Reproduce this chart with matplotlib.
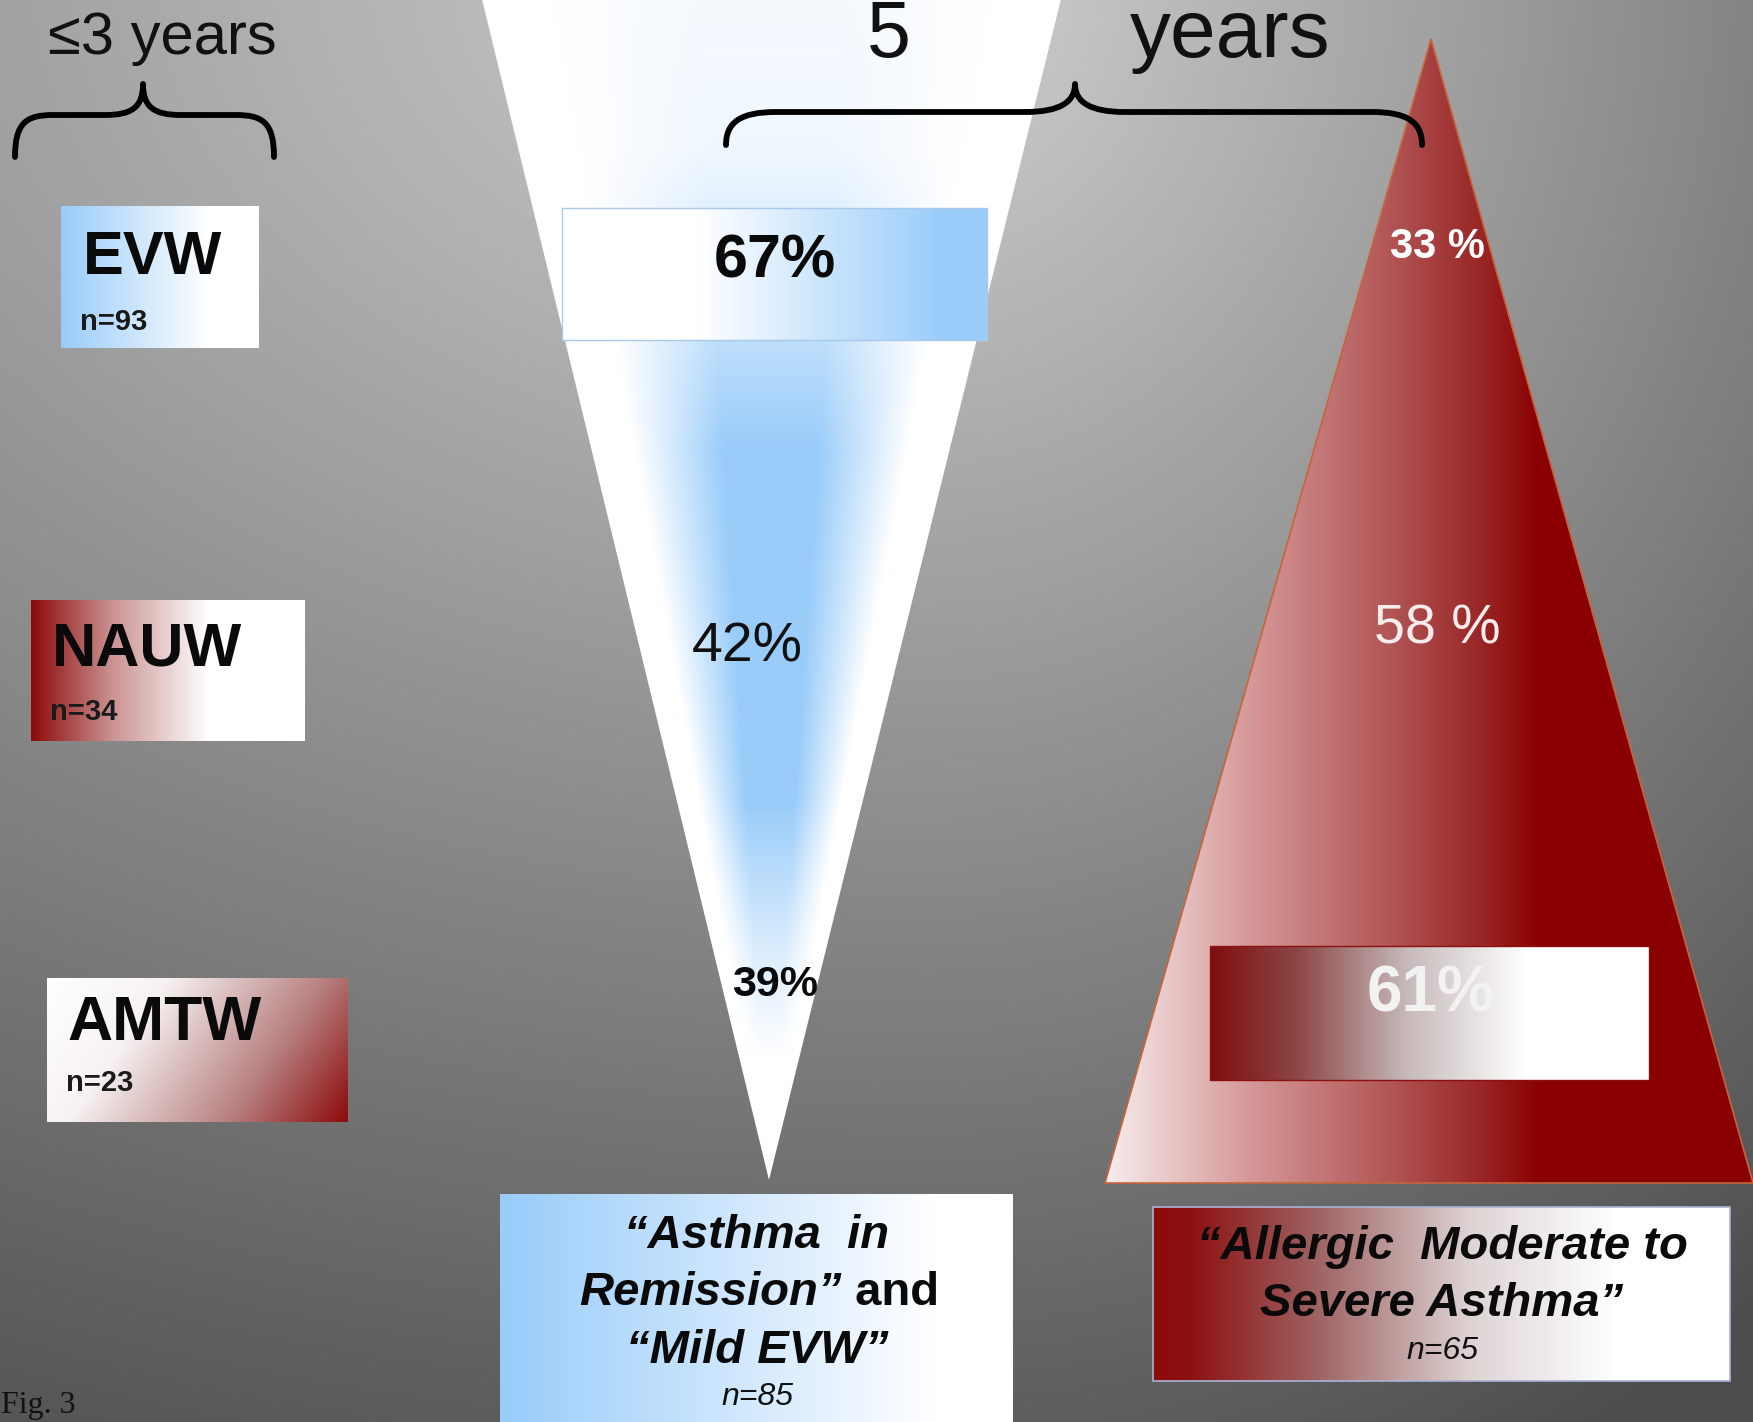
import numpy as np
import matplotlib
matplotlib.use("Agg")
import matplotlib.pyplot as plt
from matplotlib.patches import Polygon, Rectangle, PathPatch
from matplotlib.path import Path

# ---------------- data ----------------
entry_groups = ["EVW", "NAUW", "AMTW"]
entry_n = [93, 34, 23]
remission_pct = [67, 42, 39]          # share going to "Asthma in Remission"/"Mild EVW"
severe_pct = [33, 58, 61]             # share going to "Allergic Moderate to Severe Asthma"
outcome_n = [85, 65]
time_labels = ["\u22643 years", "5", "years"]
fig_label = "Fig. 3"

W, H = 1753, 1422
DPI = 100
FONT = "Liberation Sans"

fig = plt.figure(figsize=(W / DPI, H / DPI), dpi=DPI)
ax = fig.add_axes([0, 0, 1, 1])
ax.set_axis_off()


def interp_colors(t, stops):
    t = np.clip(t, 0, 1)
    pos = [s[0] for s in stops]
    out = np.zeros(t.shape + (3,))
    for c in range(3):
        out[..., c] = np.interp(t, pos, [s[1][c] for s in stops])
    return out


def grad_box(x0, y0, x1, y1, stops, diag=0.0, edge=None, lw=1.0, z=2):
    w = int(x1 - x0)
    h = int(y1 - y0)
    xx, yy = np.meshgrid(np.linspace(0, 1, w), np.linspace(0, 1, h))
    t = (1 - diag) * xx + diag * yy
    img = interp_colors(t, stops)
    ax.imshow(img, extent=(x0, x1, y1, y0), origin="upper", aspect="auto",
              interpolation="bilinear", zorder=z)
    if edge is not None:
        ax.add_patch(Rectangle((x0, y0), x1 - x0, y1 - y0, fill=False,
                               edgecolor=edge, lw=lw, zorder=z + 0.1))


# ---------------- background ----------------
yy, xx = np.mgrid[0:H, 0:W].astype(float)
cx = 930.0
sx = np.where(xx < cx, 2330.0, 1250.0)
d = np.sqrt(((xx - cx) / sx) ** 2 + ((yy + 30) / 1480.0) ** 2)
g = np.clip(0.82 - 0.46 * d, 0.30, 1)
bg = np.dstack([g, g, g])
ax.imshow(bg, extent=(0, W, H, 0), origin="upper", aspect="auto", zorder=0)

# ---------------- blue funnel ----------------
fx0, fx1, apx, apy = 481.0, 1062.0, 769.0, 1180.0
funnel = Polygon([(fx0, -5), (fx1, -5), (apx, apy)], closed=True,
                 facecolor="none", edgecolor="none", zorder=1)
ax.add_patch(funnel)
fy, fxg = np.mgrid[0:int(apy), int(fx0):int(fx1)].astype(float)
frac = 1 - fy / apy
xc = apx + ((fx0 + fx1) / 2 - apx) * frac
hw = np.maximum((fx1 - fx0) / 2 * frac, 1.0)
u = np.abs(fxg - xc) / hw
hweight = np.clip((0.76 - u) / 0.5, 0, 1)
v = np.interp(fy, [0, 150, 330, 450, 800, 950, 1060], [0.10, 0.15, 0.6, 1.0, 1.0, 0.35, 0.0])
wgt = hweight * v
blue = np.array([0.60, 0.80, 0.98])
white = np.array([1.0, 1.0, 1.0])
fimg = white[None, None, :] * (1 - wgt[..., None]) + blue[None, None, :] * wgt[..., None]
im = ax.imshow(fimg, extent=(fx0, fx1, apy, 0), origin="upper", aspect="auto",
               interpolation="bilinear", zorder=1)
im.set_clip_path(funnel)

# ---------------- red triangle ----------------
tx0, tx1, tax, tay, tby = 1105.0, 1753.0, 1431.0, 39.0, 1183.0
tri = Polygon([(tax, tay), (tx0, tby), (tx1, tby)], closed=True,
              facecolor="none", edgecolor="none", zorder=1)
ax.add_patch(tri)
ry, rx = np.mgrid[int(tay):int(tby), int(tx0):int(tx1)].astype(float)
red_stops = [(0.0, (0.97, 0.93, 0.93)), (0.22, (0.84, 0.60, 0.60)),
             (0.42, (0.71, 0.36, 0.36)), (0.58, (0.60, 0.15, 0.15)),
             (0.67, (0.545, 0.0, 0.0)), (1.0, (0.545, 0.0, 0.0))]
rimg = interp_colors((rx - tx0) / (tx1 - tx0), red_stops)
im2 = ax.imshow(rimg, extent=(tx0, tx1, tby, tay), origin="upper", aspect="auto",
                interpolation="bilinear", zorder=1)
im2.set_clip_path(tri)
ax.add_patch(Polygon([(tax, tay), (tx0, tby), (tx1, tby)], closed=True,
                     facecolor="none", edgecolor="#c8643c", lw=1.2, zorder=1.5))

# ---------------- boxes ----------------
lblue = (0.60, 0.80, 0.98)
dred = (0.55, 0.04, 0.04)
W1 = (1.0, 1.0, 1.0)
# entry boxes
grad_box(61, 206, 259, 348, [(0, lblue), (0.75, W1), (1, W1)])
grad_box(31, 600, 305, 741, [(0, dred), (0.3, (0.80, 0.58, 0.58)), (0.65, W1), (1, W1)])
grad_box(47, 978, 348, 1122, [(0, W1), (0.3, (0.97, 0.95, 0.95)), (0.7, (0.72, 0.50, 0.50)), (1, dred)], diag=0.25)
# 67 % box
grad_box(562, 208, 987, 340, [(0, W1), (0.32, W1), (0.9, lblue), (1, lblue)], edge="#a8c8ec", lw=1.0)
# 61 % box
grad_box(1210, 946, 1649, 1080, [(0, (0.50, 0.05, 0.05)), (0.2, (0.55, 0.28, 0.28)),
                                  (0.45, (0.78, 0.73, 0.73)), (0.72, W1), (1, W1)],
         edge="#8b1010", lw=1.0)
# outcome boxes
grad_box(500, 1194, 1013, 1422, [(0, lblue), (0.85, W1), (1, W1)])
grad_box(1153, 1207, 1730, 1381, [(0, dred), (0.06, (0.55, 0.06, 0.06)), (0.28, (0.62, 0.38, 0.38)),
                                   (0.55, (0.87, 0.83, 0.83)), (0.8, W1), (1, W1)],
         edge="#a8b4d8", lw=1.2)


# ---------------- braces ----------------
def brace(x0, x1, xm, yb, yl, yt, r):
    verts = [(x0, yb),
             (x0, yl + r * 0.2), (x0 + r * 0.3, yl), (x0 + r, yl),
             (xm - r, yl),
             (xm - r * 0.3, yl), (xm, yl - r * 0.2), (xm, yt),
             (xm, yl - r * 0.2), (xm + r * 0.3, yl), (xm + r, yl),
             (x1 - r, yl),
             (x1 - r * 0.3, yl), (x1, yl + r * 0.2), (x1, yb)]
    codes = [Path.MOVETO,
             Path.CURVE4, Path.CURVE4, Path.CURVE4,
             Path.LINETO,
             Path.CURVE4, Path.CURVE4, Path.CURVE4,
             Path.CURVE4, Path.CURVE4, Path.CURVE4,
             Path.LINETO,
             Path.CURVE4, Path.CURVE4, Path.CURVE4]
    ax.add_patch(PathPatch(Path(verts, codes), fill=False, edgecolor="black",
                           lw=4.2, capstyle="round", joinstyle="round", zorder=3))


brace(15, 274, 143, 157, 115, 84, 38)
brace(726, 1422, 1075, 145, 112, 84, 50)

# ---------------- texts ----------------
ax.text(162, 38, time_labels[0], fontsize=43, family=FONT, ha="center", va="center", color="#111111", zorder=4)
ax.text(889, 36, time_labels[1], fontsize=57, family=FONT, ha="center", va="center", color="#111111", zorder=4)
ax.text(1230, 36, time_labels[2], fontsize=59, family=FONT, ha="center", va="center", color="#111111", zorder=4)

entry_xy = [(83, 258), (52, 650), (67, 1023)]
entry_nxy = [(80, 322), (50, 712), (66, 1083)]
entry_fs = [44, 44, 45]
for lab, n, (x, y), (nx, ny), fs in zip(entry_groups, entry_n, entry_xy, entry_nxy, entry_fs):
    ax.text(x, y, lab, fontsize=fs, fontweight="bold", family=FONT, ha="left", va="center", color="#0a0a0a", zorder=4)
    ax.text(nx, ny, f"n={n}", fontsize=21, fontweight="bold", family=FONT, ha="left", va="center", color="#1a1a1a", zorder=4)

# remission funnel percentages
ax.text(775, 262, f"{remission_pct[0]}%", fontsize=44, fontweight="bold", family=FONT, ha="center", va="center", color="#0a0a0a", zorder=4)
ax.text(747, 648, f"{remission_pct[1]}%", fontsize=40, family=FONT, ha="center", va="center", color="#111111", zorder=4)
ax.text(775, 985, f"{remission_pct[2]}%", fontsize=31, fontweight="bold", family=FONT, ha="center", va="center", color="#0a0a0a", zorder=4)

# severe triangle percentages
ax.text(1437, 247, f"{severe_pct[0]} %", fontsize=30, fontweight="bold", family=FONT, ha="center", va="center", color="white", zorder=4)
ax.text(1437, 630, f"{severe_pct[1]} %", fontsize=40, family=FONT, ha="center", va="center", color="#f8ecec", zorder=4)
ax.text(1431, 995, f"{severe_pct[2]}%", fontsize=46, fontweight="bold", family=FONT, ha="center", va="center", color="#f2f2f2", zorder=4)

# outcome box texts
bi = dict(fontsize=34, fontweight="bold", fontstyle="italic", family=FONT, va="center", color="#0a0a0a", zorder=4)
ax.text(757, 1236, "\u201cAsthma  in", ha="center", **bi)
ax.text(842, 1293, "Remission\u201d", ha="right", **bi)
ax.text(842, 1293, " and", ha="left", fontsize=34, fontweight="bold", family=FONT, va="center", color="#0a0a0a", zorder=4)
ax.text(757, 1351, "\u201cMild EVW\u201d", ha="center", **bi)
ax.text(757, 1397, f"n={outcome_n[0]}", ha="center", fontsize=23, fontstyle="italic", family=FONT,
        va="center", color="#111111", zorder=4)

ax.text(1442, 1247, "\u201cAllergic  Moderate to", ha="center", **bi)
ax.text(1442, 1304, "Severe Asthma\u201d", ha="center", **bi)
ax.text(1442, 1351, f"n={outcome_n[1]}", ha="center", fontsize=23, fontstyle="italic", family=FONT,
        va="center", color="#111111", zorder=4)

ax.text(1, 1405, fig_label, fontsize=23, family="Liberation Serif", ha="left", va="center", color="#111111", zorder=4)

ax.set_xlim(0, W)
ax.set_ylim(H, 0)
fig.savefig("out.png", dpi=DPI)
